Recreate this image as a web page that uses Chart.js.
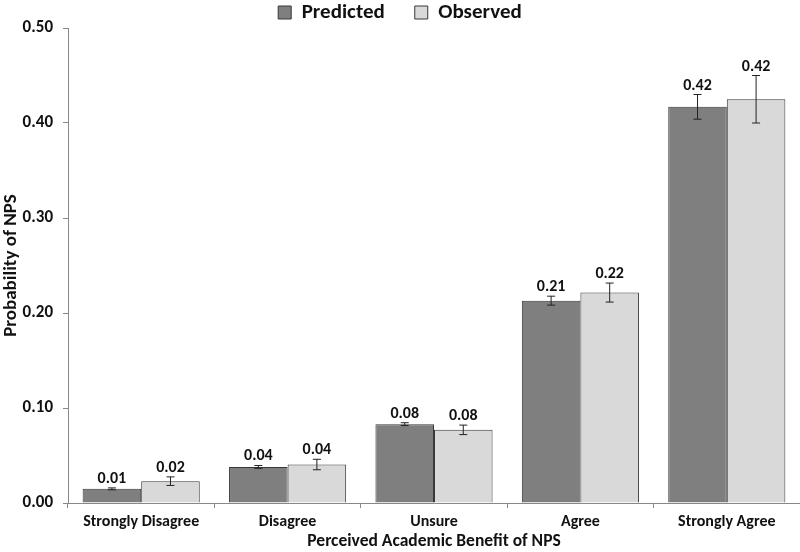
<!DOCTYPE html>
<html>
<head>
<meta charset="utf-8">
<script src="https://cdn.jsdelivr.net/npm/chart.js@4.4.0/dist/chart.umd.min.js"></script>
<style>
  body { margin: 0; background: #fff; }
  #wrap { width: 800px; height: 552px; }
</style>
</head>
<body>
<div id="wrap"><canvas id="nps"></canvas></div>
<script>
const categories = ['Strongly Disagree', 'Disagree', 'Unsure', 'Agree', 'Strongly Agree'];
const predicted = [0.0149, 0.038, 0.083, 0.213, 0.417];
const observed = [0.023, 0.0405, 0.077, 0.2215, 0.425];
const predictedErr = [0.001, 0.0015, 0.0015, 0.0047, 0.013];
const observedErr = [0.0045, 0.0055, 0.005, 0.010, 0.025];
const yTicks = [0, 0.1, 0.2, 0.3, 0.4, 0.5];

const FONT = 'Carlito, Lato, "Open Sans", sans-serif';
const LEGEND_PAD = 30;
const errs = [predictedErr, observedErr];

// error bars + value labels, positioned with the chart's own scales
const barExtras = {
  id: 'barExtras',
  afterInit(chart) {
    // thin legend strip, wide gap between the two items
    const lg = chart.legend;
    const fit = lg.fit;
    const draw = lg.draw;
    lg.fit = function () { fit.call(this); this.height = 28; };
    lg.draw = function () {
      const top = this.top;
      this.top = top - (LEGEND_PAD - 2);
      draw.call(this);
      this.top = top;
    };
  },
  afterDatasetsDraw(chart) {
    const ctx = chart.ctx;
    const y = chart.scales.y;
    ctx.save();
    chart.data.datasets.forEach((ds, i) => {
      const meta = chart.getDatasetMeta(i);
      meta.data.forEach((bar, j) => {
        const v = ds.data[j];
        const e = errs[i][j];
        const yTop = y.getPixelForValue(v + e);
        const yBot = y.getPixelForValue(v - e);
        ctx.strokeStyle = '#222';
        ctx.lineWidth = 1;
        ctx.beginPath();
        ctx.moveTo(bar.x, yTop); ctx.lineTo(bar.x, yBot);
        ctx.moveTo(bar.x - 4, yTop); ctx.lineTo(bar.x + 4, yTop);
        ctx.moveTo(bar.x - 4, yBot); ctx.lineTo(bar.x + 4, yBot);
        ctx.stroke();
        ctx.fillStyle = '#111';
        ctx.font = 'bold 16px ' + FONT;
        ctx.textAlign = 'center';
        ctx.textBaseline = 'alphabetic';
        ctx.fillText(v.toFixed(2), bar.x, yTop - 5);
      });
    });
    ctx.restore();
  }
};

new Chart(document.getElementById('nps'), {
  type: 'bar',
  data: {
    labels: categories,
    datasets: [
      { label: 'Predicted', data: predicted, backgroundColor: '#7f7f7f', borderColor: '#383838', borderWidth: 1 },
      { label: 'Observed', data: observed, backgroundColor: '#d9d9d9', borderColor: '#383838', borderWidth: 1 }
    ]
  },
  options: {
    responsive: true,
    maintainAspectRatio: false,
    animation: false,
    layout: { padding: 0 },
    datasets: { bar: { barPercentage: 1.0, categoryPercentage: 0.8 } },
    plugins: {
      tooltip: { enabled: false },
      legend: {
        position: 'top',
        labels: {
          boxWidth: 13, boxHeight: 13, padding: LEGEND_PAD,
          color: '#111',
          font: { family: FONT, size: 21, weight: 'bold' }
        }
      }
    },
    scales: {
      x: {
        afterFit(axis) { axis.height = 49; },
        grid: { display: true, drawOnChartArea: false, offset: true, tickLength: 5, color: '#888' },
        border: { color: '#888' },
        ticks: { color: '#111', padding: 4, font: { family: FONT, size: 16, weight: 'bold' } },
        title: { display: true, text: 'Perceived Academic Benefit of NPS', color: '#111', padding: 0,
                 font: { family: FONT, size: 17.5, weight: 'bold' } }
      },
      y: {
        min: 0, max: 0.5,
        afterBuildTicks(axis) { axis.ticks = yTicks.map(v => ({ value: v })); },
        afterFit(axis) { axis.width = 68; },
        grid: { display: true, drawOnChartArea: false, tickLength: 5, color: '#888' },
        border: { color: '#888' },
        ticks: { color: '#111', padding: 10, font: { family: FONT, size: 17, weight: 'bold' },
                 callback: v => v.toFixed(2) },
        title: { display: true, text: 'Probability of NPS', color: '#111', padding: 0,
                 font: { family: FONT, size: 19, weight: 'bold' } }
      }
    }
  },
  plugins: [barExtras]
});
</script>
</body>
</html>
